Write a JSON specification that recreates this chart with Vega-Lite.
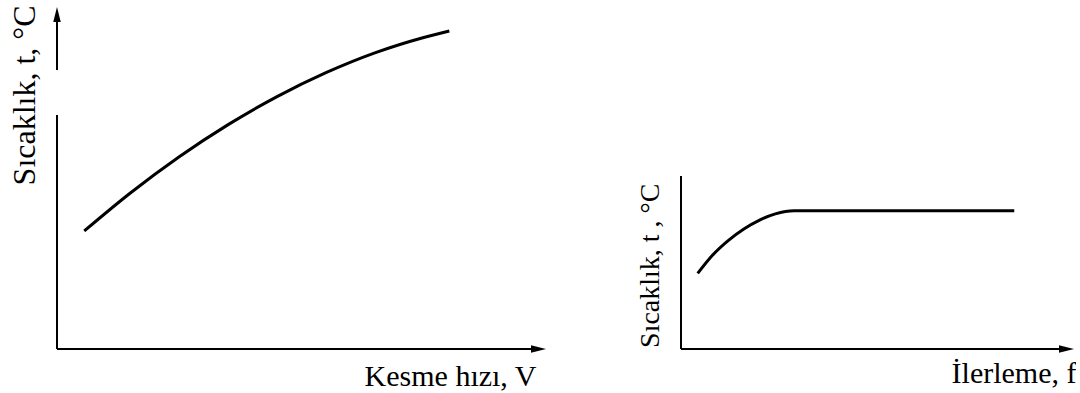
{
  "$schema": "https://vega.github.io/schema/vega-lite/v6.json",
  "background": "white",
  "padding": {"left": 7, "top": 5, "right": 0, "bottom": 0},
  "spacing": 90,
  "config": {
    "view": {"stroke": null},
    "axis": {"domain": false, "ticks": false, "labels": false, "grid": false, "titleFont": "Liberation Serif", "titleFontWeight": "normal", "titleColor": "black", "titleFontSize": 30, "titleBaseline": "alphabetic"}
  },
  "datasets": {
    "curves": [
      {"panel": "V", "x": 5.58, "y": 34.5},
      {"panel": "V", "x": 15, "y": 45.6},
      {"panel": "V", "x": 25, "y": 56.2},
      {"panel": "V", "x": 35, "y": 65.6},
      {"panel": "V", "x": 45, "y": 73.8},
      {"panel": "V", "x": 55, "y": 80.8},
      {"panel": "V", "x": 65, "y": 86.6},
      {"panel": "V", "x": 75, "y": 91.1},
      {"panel": "V", "x": 80.23, "y": 93.0},
      {"panel": "f", "x": 4.25, "y": 22.1},
      {"panel": "f", "x": 8, "y": 27.4},
      {"panel": "f", "x": 12, "y": 31.7},
      {"panel": "f", "x": 16, "y": 35.1},
      {"panel": "f", "x": 20, "y": 37.7},
      {"panel": "f", "x": 24, "y": 39.5},
      {"panel": "f", "x": 28.8, "y": 40.4},
      {"panel": "f", "x": 84.8, "y": 40.4}
    ],
    "axes": [
      {"panel": "V", "x": 0, "y": 0, "x2": 98, "y2": 0},
      {"panel": "V", "x": 0, "y": 0, "x2": 0, "y2": 68.4},
      {"panel": "V", "x": 0, "y": 81.6, "x2": 0, "y2": 97},
      {"panel": "f", "x": 0, "y": 0, "x2": 98, "y2": 0},
      {"panel": "f", "x": 0, "y": 0, "x2": 0, "y2": 50.6}
    ],
    "arrows": [
      {"panel": "V", "x": 100, "y": 0, "dir": "right"},
      {"panel": "V", "x": 0, "y": 100, "dir": "up"},
      {"panel": "f", "x": 100, "y": 0, "dir": "right"}
    ]
  },
  "hconcat": [
    {
      "width": 489,
      "height": 342,
      "encoding": {
        "x": {"field": "x", "type": "quantitative", "scale": {"domain": [0, 100], "nice": false, "zero": false},
              "axis": {"title": "Kesme hızı, V", "titleAlign": "right", "titleX": 479, "titleY": 36}},
        "y": {"field": "y", "type": "quantitative", "scale": {"domain": [0, 100], "nice": false, "zero": false},
              "axis": {"title": "Sıcaklık, t, °C", "titleFontSize": 32, "titleAngle": -90, "titleAlign": "right", "titleX": -23, "titleY": -2}}
      },
      "layer": [
        {
          "data": {"name": "axes"},
          "transform": [{"filter": "datum.panel === 'V'"}],
          "mark": {"type": "rule", "color": "black", "strokeWidth": 2},
          "encoding": {"x2": {"field": "x2"}, "y2": {"field": "y2"}}
        },
        {
          "data": {"name": "curves"},
          "transform": [{"filter": "datum.panel === 'V'"}],
          "mark": {"type": "line", "color": "black", "strokeWidth": 3, "interpolate": "monotone"},
          "encoding": {}
        },
        {
          "data": {"name": "arrows"},
          "transform": [{"filter": "datum.panel === 'V'"}],
          "mark": {"type": "point", "filled": true, "size": 225, "color": "black", "opacity": 1, "strokeWidth": 0},
          "encoding": {
            "shape": {"field": "dir", "type": "nominal", "legend": null,
                      "scale": {"domain": ["right", "up"], "range": ["M0,0L-2,-0.5L-2,0.5Z", "M0,0L-0.5,2L0.5,2Z"]}}
          }
        }
      ]
    },
    {
      "width": 393,
      "height": 342,
      "encoding": {
        "x": {"field": "x", "type": "quantitative", "scale": {"domain": [0, 100], "nice": false, "zero": false},
              "axis": {"title": "İlerleme, f", "titleAlign": "right", "titleX": 395, "titleY": 33}},
        "y": {"field": "y", "type": "quantitative", "scale": {"domain": [0, 100], "nice": false, "zero": false},
              "axis": {"title": "Sıcaklık, t , °C", "titleFontSize": 28, "titleAngle": -90, "titleAlign": "right", "titleX": -23, "titleY": 176}}
      },
      "layer": [
        {
          "data": {"name": "axes"},
          "transform": [{"filter": "datum.panel === 'f'"}],
          "mark": {"type": "rule", "color": "black", "strokeWidth": 2},
          "encoding": {"x2": {"field": "x2"}, "y2": {"field": "y2"}}
        },
        {
          "data": {"name": "curves"},
          "transform": [{"filter": "datum.panel === 'f'"}],
          "mark": {"type": "line", "color": "black", "strokeWidth": 3, "interpolate": "monotone"},
          "encoding": {}
        },
        {
          "data": {"name": "arrows"},
          "transform": [{"filter": "datum.panel === 'f'"}],
          "mark": {"type": "point", "filled": true, "size": 225, "color": "black", "opacity": 1, "strokeWidth": 0},
          "encoding": {
            "shape": {"field": "dir", "type": "nominal", "legend": null,
                      "scale": {"domain": ["right", "up"], "range": ["M0,0L-2,-0.5L-2,0.5Z", "M0,0L-0.5,2L0.5,2Z"]}}
          }
        }
      ]
    }
  ]
}
